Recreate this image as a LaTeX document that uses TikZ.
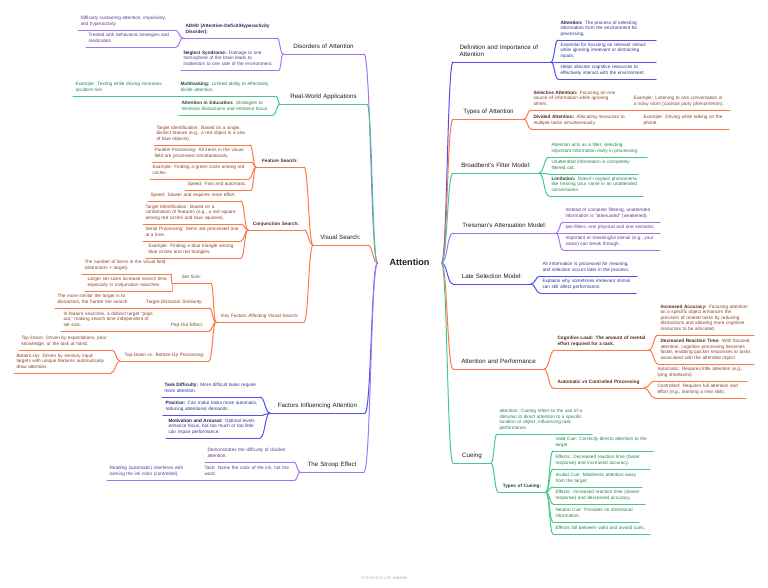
\documentclass[tikz,border=0pt]{standalone}
\usepackage{fontspec}
\setmainfont{Liberation Sans}
\usetikzlibrary{calc}

\definecolor{mainT}{RGB}{30,30,30}
\definecolor{purL}{RGB}{165,115,245}
\definecolor{purT}{RGB}{85,60,150}
\definecolor{grnL}{RGB}{70,200,140}
\definecolor{grnT}{RGB}{35,130,80}
\definecolor{orgL}{RGB}{255,120,70}
\definecolor{orgT}{RGB}{140,65,35}
\definecolor{bluL}{RGB}{80,80,240}
\definecolor{bluT}{RGB}{50,50,150}

\newcommand{\leaffnt}{\fontsize{4.7}{5.5}\selectfont}
\newcommand{\brfnt}{\fontsize{6.2}{7.5}\selectfont}
\newcommand{\hl}[1]{{\bfseries\color{.!60!black}#1}}
% curved link between two anchors
\newcommand{\lnk}[2]{\draw let \p1=(#1), \p2=(#2) in (\p1) .. controls ({(\x1+\x2)/2},\y1) and ({(\x1+\x2)/2},\y2) .. (\p2);}

\begin{document}
\begin{tikzpicture}[x=1pt, y=-1pt, line width=1pt, line cap=round,
  every node/.style={inner xsep=2pt, inner ysep=2.6pt, execute at end node=\strut},
  lf/.style={anchor=south west, align=left, text width=#1, font=\leaffnt},
  sub/.style={anchor=south west, align=center, text width=#1, font=\leaffnt},
  br/.style={anchor=south west, align=center, text width=#1, font=\brfnt, text=mainT}]
  \useasboundingbox (0,0) rectangle (768,587);

  % root
  \node[font=\fontsize{9.1}{11}\selectfont\bfseries, text=mainT, minimum width=63pt, inner xsep=0pt] (root) at (409.5,263) {Attention};

  % disorders of attention
  \begin{scope}[purL, every node/.append style={text=purT}]
    \node[br=76] (dis) at (283,54) {Disorders of Attention};
    \node[lf=89] (adhd) at (183,38) {\hl{ADHD (Attention-Deficit/Hyperactivity\\Disorder):}};
    \node[lf=92] (adhd1) at (78,30) {Difficulty sustaining attention, impulsivity,\\and hyperactivity};
    \node[lf=85] (adhd2) at (86,47) {Treated with behavioral strategies and\\medication};
    \node[lf=93] (neg) at (181,70) {\hl{Neglect Syndrome:} Damage to one\\hemisphere of the brain leads to\\inattention to one side of the environment.};
    \foreach \n in {dis,adhd,adhd1,adhd2,neg} \draw (\n.south west) -- (\n.south east);
    \lnk{root.west}{dis.south east}
    \foreach \c in {adhd,neg} {\lnk{dis.south west}{\c.south east}}
    \foreach \c in {adhd1,adhd2} {\lnk{adhd.south west}{\c.south east}}
  \end{scope}

  % real-world applications
  \begin{scope}[grnL, every node/.append style={text=grnT}]
    \node[br=82] (rw) at (280,104) {Real-World Applications};
    \node[lf=93] (mt) at (178,96) {\hl{Multitasking:} Limited ability to effectively\\divide attention.};
    \node[lf=97] (mt1) at (73,96) {Example: Texting while driving increases\\accident risk.};
    \node[lf=89] (edu) at (179,115) {\hl{Attention in Education:} Strategies to\\minimize distractions and enhance focus.};
    \foreach \n in {rw,mt,mt1,edu} \draw (\n.south west) -- (\n.south east);
    \lnk{root.west}{rw.south east}
    \foreach \c in {mt,edu} {\lnk{rw.south west}{\c.south east}}
    \lnk{mt.south west}{mt1.south east}
  \end{scope}

  % visual search
  \begin{scope}[orgL, every node/.append style={text=orgT}]
    \node[br=50] (vs) at (313,245) {Visual Search:};
    \node[sub=43] (fs) at (256,167) {\hl{Feature Search:}};
    \node[lf=91] (fs1) at (154,145) {Target Identification: Based on a single,\\distinct feature (e.g., a red object in a sea\\of blue objects).};
    \node[lf=94] (fs2) at (152,162) {Parallel Processing: All items in the visual\\field are processed simultaneously.};
    \node[lf=94] (fs3) at (150,179) {Example: Finding a green circle among red\\circles.};
    \node[lf=61] (fs4) at (185,190) {Speed: Fast and automatic.};
    \node[sub=51] (cs) at (248,230) {\hl{Conjunction Search:}};
    \node[lf=88] (cs1) at (148,201) {Speed: Slower and requires more effort.};
    \node[lf=93] (cs2) at (143,224) {Target Identification: Based on a\\combination of features (e.g., a red square\\among red circles and blue squares).};
    \node[lf=93] (cs3) at (143,241) {Serial Processing: Items are processed one\\at a time.};
    \node[lf=90] (cs4) at (146,258) {Example: Finding a blue triangle among\\blue circles and red triangles};
    \node[sub=83] (kf) at (216,322) {Key Factors Affecting Visual Search:};
    \node[sub=34] (ss) at (172,283) {Set Size:};
    \node[lf=84] (ss1) at (82,274) {The number of items in the visual field\\(distractors + target).};
    \node[lf=82] (ss2) at (85,291) {Larger set sizes increase search time,\\especially in conjunction searches.};
    \node[sub=64] (tds) at (140,308) {Target-Distractor Similarity:};
    \node[lf=78] (tds1) at (55,308) {The more similar the target is to\\distractors, the harder the search.};
    \node[sub=39] (po) at (165,331) {Pop-Out Effect:};
    \node[lf=91] (po1) at (61,331) {In feature searches, a distinct target “pops\\out,” making search time independent of\\set size.};
    \node[sub=84] (td) at (120,361) {Top-Down vs. Bottom-Up Processing:};
    \node[lf=88] (td1) at (19,350) {Top-Down: Driven by expectations, prior\\knowledge, or the task at hand.};
    \node[lf=92] (td2) at (14,373) {Bottom-Up: Driven by sensory input;\\targets with unique features automatically\\draw attention.};
    \foreach \n in {vs,fs,fs1,fs2,fs3,fs4,cs,cs1,cs2,cs3,cs4,kf,ss,ss1,ss2,tds,tds1,po,po1,td,td1,td2}
      \draw (\n.south west) -- (\n.south east);
    \lnk{root.west}{vs.south east}
    \foreach \c in {fs,cs,kf} {\lnk{vs.south west}{\c.south east}}
    \foreach \c in {fs1,fs2,fs3,fs4} {\lnk{fs.south west}{\c.south east}}
    \foreach \c in {cs1,cs2,cs3,cs4} {\lnk{cs.south west}{\c.south east}}
    \foreach \c in {ss,tds,po,td} {\lnk{kf.south west}{\c.south east}}
    \foreach \c in {ss1,ss2} {\lnk{ss.south west}{\c.south east}}
    \lnk{tds.south west}{tds1.south east}
    \lnk{po.south west}{po1.south east}
    \foreach \c in {td1,td2} {\lnk{td.south west}{\c.south east}}
  \end{scope}

  % factors influencing attention
  \begin{scope}[bluL, every node/.append style={text=bluT}]
    \node[br=90] (fi) at (270,413) {Factors Influencing Attention};
    \node[lf=93] (fi1) at (162,397) {\hl{Task Difficulty:} More difficult tasks require\\more attention.};
    \node[lf=95] (fi2) at (163,415) {\hl{Practice:} Can make tasks more automatic,\\reducing attentional demands.};
    \node[lf=89] (fi3) at (166,438) {\hl{Motivation and Arousal:} Optimal levels\\enhance focus, but too much or too little\\can impair performance.};
    \foreach \n in {fi,fi1,fi2,fi3} \draw (\n.south west) -- (\n.south east);
    \lnk{root.west}{fi.south east}
    \foreach \c in {fi1,fi2,fi3} {\lnk{fi.south west}{\c.south east}}
  \end{scope}

  % the stroop effect
  \begin{scope}[purL, every node/.append style={text=purT}]
    \node[br=59] (st) at (300,472) {The Stroop Effect};
    \node[lf=84] (st1) at (205,462) {Demonstrates the difficulty of divided\\attention.};
    \node[lf=88] (st2) at (202,480) {Task: Name the color of the ink, not the\\word.};
    \node[lf=87] (st2a) at (107,480) {Reading (automatic) interferes with\\naming the ink color (controlled).};
    \foreach \n in {st,st1,st2,st2a} \draw (\n.south west) -- (\n.south east);
    \lnk{root.west}{st.south east}
    \foreach \c in {st1,st2} {\lnk{st.south west}{\c.south east}}
    \lnk{st2.south west}{st2a.south east}
  \end{scope}

  % definition and importance
  \begin{scope}[bluL, every node/.append style={text=bluT}]
    \node[br=85, align=left, inner xsep=6pt] (def) at (453,62) {Definition and Importance of\\Attention};
    \node[lf=93] (def1) at (558,40) {\hl{Attention:} The process of selecting\\information from the environment for\\processing.};
    \node[lf=93] (def2) at (558,62) {Essential for focusing on relevant stimuli\\while ignoring irrelevant or distracting\\inputs.};
    \node[lf=93] (def3) at (558,79) {Helps allocate cognitive resources to\\effectively interact with the environment.};
    \foreach \n in {def,def1,def2,def3} \draw (\n.south west) -- (\n.south east);
    \lnk{root.east}{def.south west}
    \foreach \c in {def1,def2,def3} {\lnk{def.south east}{\c.south west}}
  \end{scope}

  % types of attention
  \begin{scope}[orgL, every node/.append style={text=orgT}]
    \node[br=66] (ty) at (453,119) {Types of Attention};
    \node[lf=93] (sel) at (531,110) {\hl{Selective Attention:} Focusing on one\\source of information while ignoring\\others.};
    \node[lf=94] (sel1) at (631,110) {Example: Listening to one conversation in\\a noisy room (cocktail party phenomenon).};
    \node[lf=96] (div) at (531,129) {\hl{Divided Attention:} Allocating resources to\\multiple tasks simultaneously.};
    \node[lf=83] (div1) at (641,129) {Example: Driving while talking on the\\phone.};
    \foreach \n in {ty,sel,sel1,div,div1} \draw (\n.south west) -- (\n.south east);
    \lnk{root.east}{ty.south west}
    \foreach \c in {sel,div} {\lnk{ty.south east}{\c.south west}}
    \lnk{sel.south east}{sel1.south west}
    \lnk{div.south east}{div1.south west}
  \end{scope}

  % broadbent
  \begin{scope}[grnL, every node/.append style={text=grnT}]
    \node[br=81] (bf) at (453,173) {Broadbent’s Filter Model:};
    \node[lf=93] (bf1) at (549,157) {Attention acts as a filter, selecting\\important information early in processing.};
    \node[lf=84] (bf2) at (549,174) {Unattended information is completely\\filtered out.};
    \node[lf=89] (bf3) at (549,196) {\hl{Limitation:} Doesn’t explain phenomena\\like hearing your name in an unattended\\conversation.};
    \foreach \n in {bf,bf1,bf2,bf3} \draw (\n.south west) -- (\n.south east);
    \lnk{root.east}{bf.south west}
    \foreach \c in {bf1,bf2,bf3} {\lnk{bf.south east}{\c.south west}}
  \end{scope}

  % treisman
  \begin{scope}[purL, every node/.append style={text=purT}]
    \node[br=98] (tr) at (453,233) {Treisman’s Attenuation Model:};
    \node[lf=92] (tr1) at (563,222) {Instead of complete filtering, unattended\\information is “attenuated” (weakened).};
    \node[lf=92] (tr2) at (563,233) {two filters, one physical and one semantic};
    \node[lf=92] (tr3) at (563,250) {Important or meaningful stimuli (e.g., your\\name) can break through.};
    \foreach \n in {tr,tr1,tr2,tr3} \draw (\n.south west) -- (\n.south east);
    \lnk{root.east}{tr.south west}
    \foreach \c in {tr1,tr2,tr3} {\lnk{tr.south east}{\c.south west}}
  \end{scope}

  % late selection
  \begin{scope}[bluL, every node/.append style={text=bluT}]
    \node[br=73] (ls) at (453,284) {Late Selection Model:};
    \node[lf=92] (ls1) at (540,276) {All information is processed for meaning,\\and selection occurs later in the process.};
    \node[lf=91] (ls2) at (540,293) {Explains why sometimes irrelevant stimuli\\can still affect performance.};
    \foreach \n in {ls,ls1,ls2} \draw (\n.south west) -- (\n.south east);
    \lnk{root.east}{ls.south west}
    \foreach \c in {ls1,ls2} {\lnk{ls.south east}{\c.south west}}
  \end{scope}

  % attention and performance
  \begin{scope}[orgL, every node/.append style={text=orgT}]
    \node[br=86] (ap) at (453,369) {Attention and Performance};
    \node[lf=89] (cl) at (555,350) {\hl{Cognitive Load: The amount of mental\\effort required for a task.}};
    \node[lf=91] (cl1) at (658,335) {\hl{Increased Accuracy:} Focusing attention\\on a specific object enhances the\\precision of related tasks by reducing\\distractions and allowing more cognitive\\resources to be allocated.};
    \node[lf=91] (cl2) at (658,364) {\hl{Decreased Reaction Time:} With focused\\attention, cognitive processing becomes\\faster, enabling quicker responses to tasks\\associated with the attended object.};
    \node[sub=86] (acp) at (553,388) {\hl{Automatic vs Controlled Processing}};
    \node[lf=87] (acp1) at (655,381) {Automatic: Requires little attention (e.g.,\\tying shoelaces).};
    \node[lf=86] (acp2) at (655,398) {Controlled: Requires full attention and\\effort (e.g., learning a new skill).};
    \foreach \n in {ap,cl,cl1,cl2,acp,acp1,acp2} \draw (\n.south west) -- (\n.south east);
    \lnk{root.east}{ap.south west}
    \foreach \c in {cl,acp} {\lnk{ap.south east}{\c.south west}}
    \foreach \c in {cl1,cl2} {\lnk{cl.south east}{\c.south west}}
    \foreach \c in {acp1,acp2} {\lnk{acp.south east}{\c.south west}}
  \end{scope}

  % cueing
  \begin{scope}[grnL, every node/.append style={text=grnT}]
    \node[br=33] (cu) at (453,463) {Cueing};
    \node[lf=90] (cu1) at (497,434) {attention: Cueing refers to the use of a\\stimulus to direct attention to a specific\\location or object, influencing task\\performance.};
    \node[sub=43] (tc) at (498,492) {\hl{Types of Cueing:}};
    \node[lf=95] (tc1) at (553,451) {Valid Cue: Correctly directs attention to the\\target.};
    \node[lf=92] (tc2) at (553,469) {Effects: Decreased reaction time (faster\\response) and increased accuracy.};
    \node[lf=84] (tc3) at (553,487) {Invalid Cue: Misdirects attention away\\from the target.};
    \node[lf=87] (tc4) at (553,504) {Effects: Increased reaction time (slower\\response) and decreased accuracy.};
    \node[lf=81] (tc5) at (553,522) {Neutral Cue: Provides no directional\\information.};
    \node[lf=92] (tc6) at (553,534) {Effects fall between valid and invalid cues.};
    \foreach \n in {cu,cu1,tc,tc1,tc2,tc3,tc4,tc5,tc6} \draw (\n.south west) -- (\n.south east);
    \lnk{root.east}{cu.south west}
    \foreach \c in {cu1,tc} {\lnk{cu.south east}{\c.south west}}
    \foreach \c in {tc1,tc2,tc3,tc4,tc5,tc6} {\lnk{tc.south east}{\c.south west}}
  \end{scope}

  % footer
  \node[font=\fontsize{4.6}{5.5}\selectfont, text=black!25] (brand) at (384,578) {Presented with \textbf{xmind}};
\end{tikzpicture}
\end{document}
